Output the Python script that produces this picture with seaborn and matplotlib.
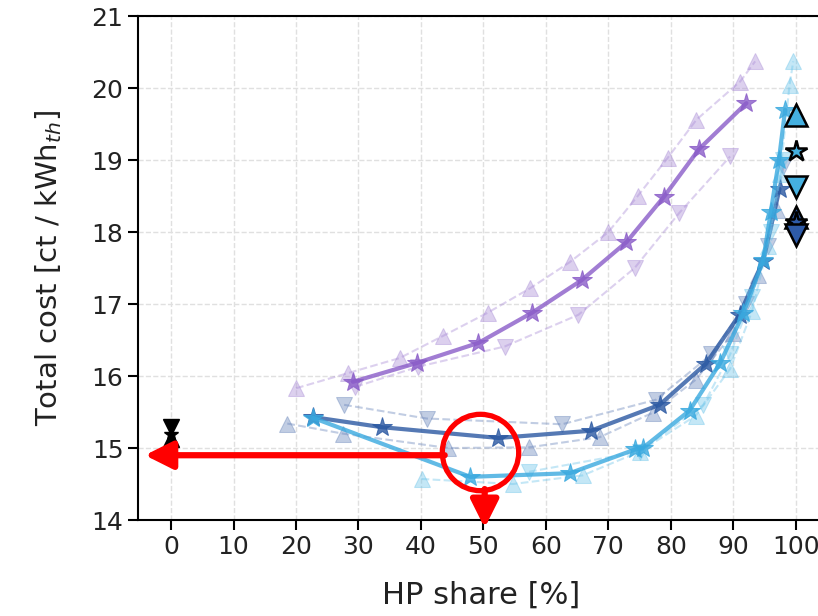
import numpy as np
import pandas as pd
import seaborn as sns
import matplotlib.pyplot as plt

# purple scenario
pu_x = [29.1, 39.3, 49.2, 57.8, 65.7, 72.9, 78.9, 84.5, 92.1]
pu_y = [15.92, 16.18, 16.46, 16.88, 17.33, 17.86, 18.49, 19.15, 19.79]
pu_hi_x = [20.0, 28.3, 36.6, 43.6, 50.7, 57.5, 63.8, 70.0, 74.7, 79.5, 84.1, 91.1, 93.5]
pu_hi_y = [15.83, 16.04, 16.25, 16.56, 16.88, 17.22, 17.58, 18.0, 18.5, 19.03, 19.56, 20.09, 20.37]
pu_lo_x = [29.5, 39.6, 53.4, 65.2, 74.2, 81.3, 89.5]
pu_lo_y = [15.85, 16.13, 16.41, 16.85, 17.5, 18.26, 19.05]

# dark blue scenario
db_x = [22.7, 33.7, 52.4, 67.2, 78.2, 85.6, 91.0, 94.8, 97.4]
db_y = [15.43, 15.29, 15.14, 15.24, 15.60, 16.17, 16.85, 17.6, 18.6]
db_hi_x = [18.6, 27.5, 44.4, 57.3, 68.6, 77.1, 84.0, 90.0, 94.0, 97.0]
db_hi_y = [15.34, 15.2, 15.0, 15.01, 15.15, 15.49, 15.95, 16.6, 17.4, 18.3]
db_lo_x = [27.7, 40.9, 62.6, 77.6, 86.5, 92.0, 95.5, 98.0]
db_lo_y = [15.6, 15.41, 15.33, 15.67, 16.3, 17.0, 17.8, 18.9]

# light blue scenario
cy_x = [22.7, 47.9, 63.8, 74.3, 75.5, 83.0, 87.9, 91.6, 94.8, 96.0, 97.3, 98.3]
cy_y = [15.42, 14.6, 14.65, 14.98, 15.0, 15.52, 16.18, 16.87, 17.61, 18.28, 19.0, 19.7]
cy_hi_x = [40.1, 54.7, 65.9, 75.0, 84.0, 89.5, 93.0, 95.5, 97.5, 99.0, 99.6]
cy_hi_y = [14.57, 14.5, 14.62, 14.95, 15.45, 16.1, 16.9, 17.8, 18.8, 20.04, 20.37]
cy_lo_x = [57.3, 75.0, 85.2, 89.5, 93.0, 96.0, 98.0]
cy_lo_y = [14.67, 14.95, 15.6, 16.3, 17.1, 18.0, 19.0]

# reference points at 0 % and 100 %
ref0_y = [15.13, 15.2, 15.29]          # up, star, down
ref100_cy_y = [19.62, 19.12, 18.63]    # up, star, down
ref100_db_y = [18.21, 18.14, 17.96]

sns.set_theme(style='ticks')
plt.rcParams['font.family'] = ['DejaVu Sans']

fig = plt.figure(figsize=(8.18, 6.16), dpi=100)
ax = fig.add_axes([0.1687, 0.1558, 0.84, 0.8182])

series = [
    ('#8a5cc8', '#a98bd6', pu_x, pu_y, pu_hi_x, pu_hi_y, pu_lo_x, pu_lo_y),
    ('#2a58a2', '#6682b9', db_x, db_y, db_hi_x, db_hi_y, db_lo_x, db_lo_y),
    ('#39a9df', '#6cc4ea', cy_x, cy_y, cy_hi_x, cy_hi_y, cy_lo_x, cy_lo_y),
]

for col, light, x, y, hx, hy, lx, ly in series:
    sns.lineplot(x=hx, y=hy, ax=ax, sort=False, estimator=None, color=light,
                 ls='--', lw=1.5, alpha=0.4, marker='^', markersize=11,
                 markeredgecolor=light)
    sns.lineplot(x=lx, y=ly, ax=ax, sort=False, estimator=None, color=light,
                 ls='--', lw=1.5, alpha=0.4, marker='v', markersize=11,
                 markeredgecolor=light)
    sns.lineplot(x=x, y=y, ax=ax, sort=False, estimator=None, color=col,
                 lw=3, alpha=0.8, marker='*', markersize=15,
                 markeredgecolor=col)

# black reference at 0 %
for yy, m in zip(ref0_y, ['^', '*', 'v']):
    ax.plot([0], [yy], marker=m, color='black', markersize=11, ls='none')

# 100 % markers with black edges
for yy, m in zip(ref100_db_y, ['^', '*', 'v']):
    ax.plot([100], [yy], marker=m, color='#2e5ba8', markeredgecolor='black',
            markeredgewidth=1.8, markersize=16, ls='none')
for yy, m in zip(ref100_cy_y, ['^', '*', 'v']):
    ax.plot([100], [yy], marker=m, color='#45b0e0', markeredgecolor='black',
            markeredgewidth=1.8, markersize=16, ls='none')

ax.set_xlim(-5.3, 104.7)
ax.set_ylim(14, 21)
ax.set_xticks(np.arange(0, 101, 10))
ax.set_yticks(np.arange(14, 22, 1))
ax.grid(True, ls='--', color='#e0e0e0', lw=1)
ax.spines['right'].set_visible(False)
for s in ['left', 'top', 'bottom']:
    ax.spines[s].set_color('black')
    ax.spines[s].set_linewidth(1.5)
ax.tick_params(labelsize=18, length=7, width=1.5, color='black', labelcolor='#222222')
ax.set_xlabel('HP share [%]', fontsize=22, color='#222222', labelpad=16)
ax.set_ylabel('Total cost [ct / kWh$_{th}$]', fontsize=21, color='#222222', labelpad=20)

# red highlight
ax.plot([49.4], [14.94], marker='o', markersize=55, markerfacecolor='none',
        markeredgecolor='red', markeredgewidth=3.8, clip_on=False)
ax.annotate('', xy=(-4.2, 14.9), xytext=(43.8, 14.9),
            arrowprops=dict(arrowstyle='-|>', color='red', lw=4.5, mutation_scale=42,
                            shrinkA=0, shrinkB=0), annotation_clip=False)
ax.annotate('', xy=(50.2, 13.89), xytext=(50.2, 14.43),
            arrowprops=dict(arrowstyle='-|>', color='red', lw=4.5, mutation_scale=42,
                            shrinkA=0, shrinkB=0), annotation_clip=False)

fig.savefig('out.png', dpi=100)
